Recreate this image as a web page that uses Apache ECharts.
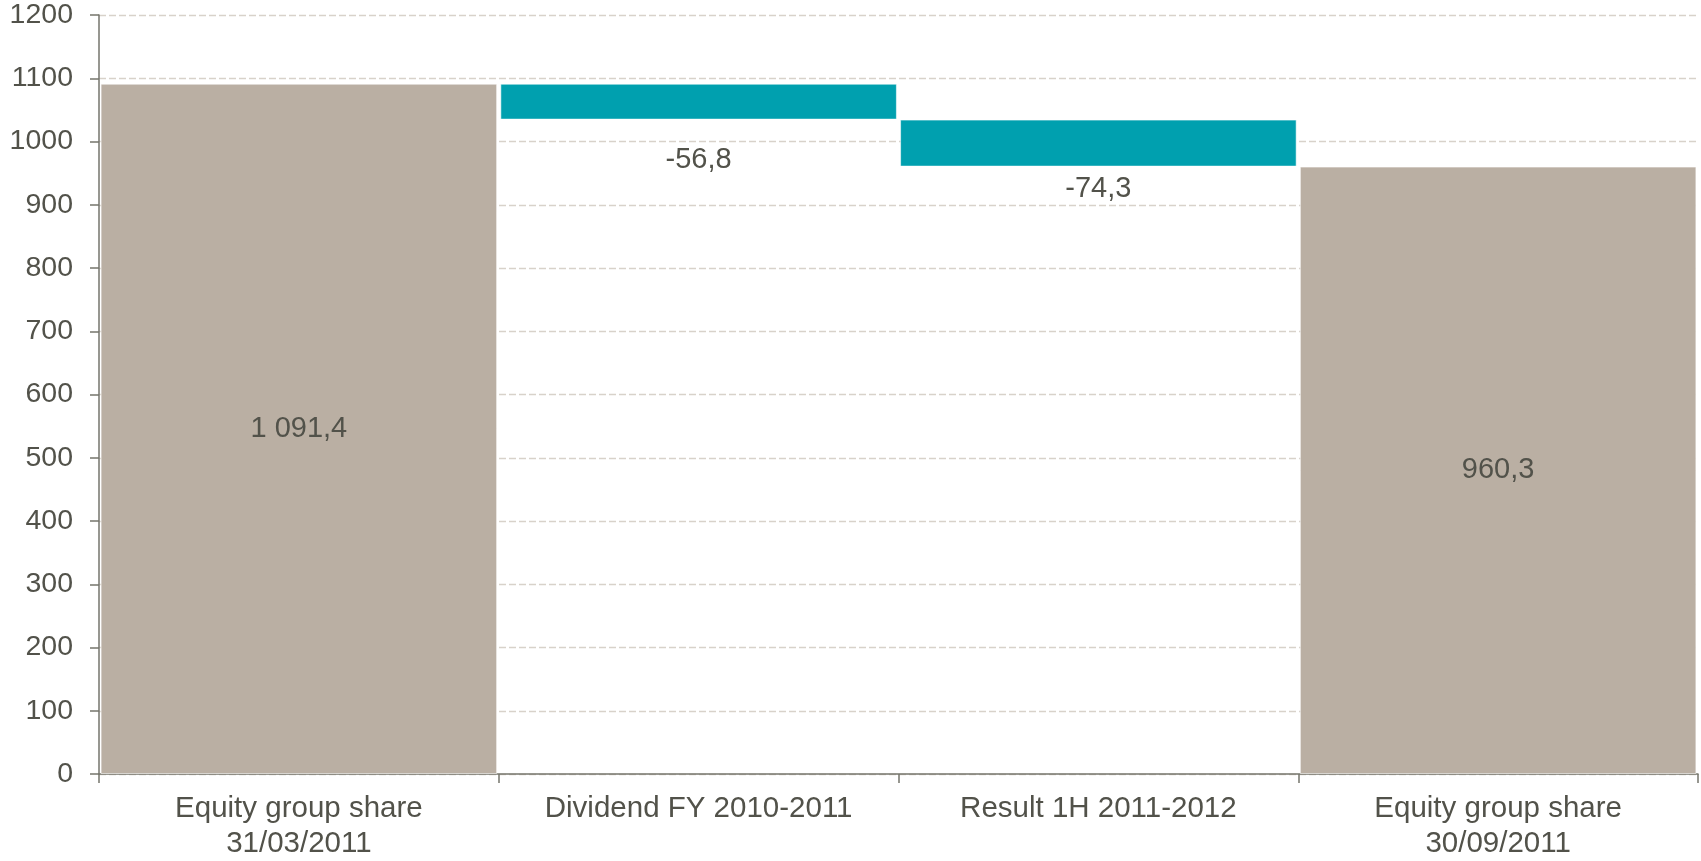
<!DOCTYPE html>
<html>
<head>
<meta charset="utf-8">
<title>Equity group share bridge</title>
<script src="https://cdn.jsdelivr.net/npm/echarts@6/dist/echarts.min.js"></script>
<style>
  html, body { margin: 0; padding: 0; background: #ffffff; }
  #chart { width: 1701px; height: 861px; }
</style>
</head>
<body>
<div id="chart"></div>
<script>
// Bridge steps: opening equity, two movements, closing equity
const categories = [
  'Equity group share\n31/03/2011',
  'Dividend FY 2010-2011',
  'Result 1H 2011-2012',
  'Equity group share\n30/09/2011'
];
const stepValues = [1091.4, -56.8, -74.3, 960.3];
const isTotal = [true, false, false, true];
const yTicks = { min: 0, max: 1200, interval: 100 };

// Label gap under each movement bar (styling only)
const movementLabelGap = [0, 26, 8, 0];

const TEXT = '#52524a';
const TAN = '#baafa3';
const TEAL = '#00a0af';
const FONT = '"Liberation Sans", Arial, sans-serif';

// Floating base (invisible) and visible height for each step
const baseVals = [];
const barVals = [];
let running = 0;
stepValues.forEach((v, i) => {
  if (isTotal[i]) {
    baseVals.push(0);
    barVals.push(v);
    running = v;
  } else {
    const next = running + v;
    baseVals.push(Math.min(running, next));
    barVals.push(Math.abs(v));
    running = next;
  }
});

function fmt(v) {
  const neg = v < 0;
  const parts = Math.abs(v).toFixed(1).split('.');
  const intPart = parts[0].replace(/\B(?=(\d{3})+(?!\d))/g, ' ');
  return (neg ? '-' : '') + intPart + ',' + parts[1];
}

const visibleData = barVals.map((h, i) => ({
  value: h,
  itemStyle: { color: isTotal[i] ? TAN : TEAL },
  label: isTotal[i]
    ? { position: 'inside' }
    : { position: 'bottom', distance: movementLabelGap[i] }
}));

const chart = echarts.init(document.getElementById('chart'), null, { renderer: 'canvas' });
chart.setOption({
  animation: false,
  backgroundColor: '#ffffff',
  grid: { left: 99, right: 3, top: 15, bottom: 87, containLabel: false },
  xAxis: {
    type: 'category',
    data: categories,
    axisLine: { show: true, lineStyle: { color: '#75756c', width: 1.5 } },
    axisTick: { show: true, alignWithLabel: false, length: 9, lineStyle: { color: '#75756c', width: 1.5 } },
    axisLabel: {
      color: TEXT,
      fontFamily: FONT,
      fontSize: 29.5,
      lineHeight: 35,
      margin: 17,
      interval: 0
    },
    splitLine: { show: false }
  },
  yAxis: {
    type: 'value',
    min: yTicks.min,
    max: yTicks.max,
    interval: yTicks.interval,
    axisLine: { show: true, lineStyle: { color: '#75756c', width: 1.5 } },
    axisTick: { show: true, length: 9, lineStyle: { color: '#75756c', width: 1.5 } },
    axisLabel: {
      color: TEXT,
      fontFamily: FONT,
      fontSize: 28.5,
      margin: 26,
      formatter: v => String(v)
    },
    splitLine: {
      show: true,
      lineStyle: { color: '#d8d2ca', type: [7, 3], width: 1.4 }
    }
  },
  series: [
    {
      name: 'base',
      type: 'bar',
      stack: 'bridge',
      data: baseVals,
      itemStyle: { color: 'transparent' },
      emphasis: { disabled: true },
      silent: true,
      barCategoryGap: '0.8%'
    },
    {
      name: 'step',
      type: 'bar',
      stack: 'bridge',
      data: visibleData,
      barCategoryGap: '0.8%',
      itemStyle: { borderColor: 'rgba(255,255,255,0.55)', borderWidth: 1 },
      label: {
        show: true,
        color: TEXT,
        fontFamily: FONT,
        fontSize: 29,
        formatter: p => fmt(stepValues[p.dataIndex])
      }
    }
  ]
});
</script>
</body>
</html>
